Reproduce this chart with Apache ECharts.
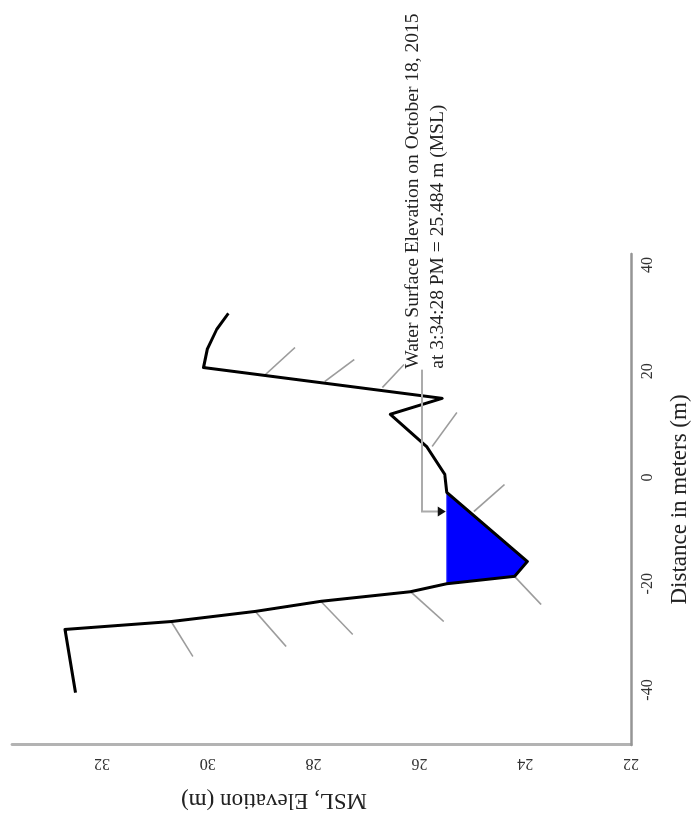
<!DOCTYPE html>
<html>
<head>
<meta charset="utf-8">
<script src="https://cdn.jsdelivr.net/npm/echarts@6/dist/echarts.min.js"></script>
<style>
  html, body { margin: 0; padding: 0; width: 696px; height: 839px; overflow: hidden; background: #fff; }
  /* the section is laid out with distance across and elevation up, then turned a quarter-turn counter-clockwise */
  #chart { position: absolute; left: 0; top: 839px; width: 839px; height: 696px;
           transform-origin: 0 0; transform: rotate(-90deg); }
</style>
</head>
<body>
<div id="chart"></div>
<script>
// Cross-section survey: distance along the section (m) and MSL bed elevation (m)
const distanceTicks = [-40, -20, 0, 20, 40];
const elevationTicks = [22, 24, 26, 28, 30, 32];

const bedDistance  = [-40.5, -28.6, -27.1, -25.2, -23.3, -21.5, -20.0, -18.6, -15.8, -2.8, 0.6, 5.8, 11.9, 14.9, 20.7, 24.1, 27.9, 30.9];
const bedElevation = [32.50, 32.70, 30.68, 29.10, 27.86, 26.17, 25.484, 24.20, 23.96, 25.484, 25.52, 25.86, 26.55, 25.57, 30.08, 30.01, 29.83, 29.61];

const waterSurface = 25.484;
const waterLabel = ['Water Surface Elevation on October 18, 2015', 'at 3:34:28 PM = 25.484 m (MSL)'];

// ground hatching: start on the bed, end below it  [distance, elevation]
const hatchStart = [[19.39, 28.91], [18.07, 27.79], [16.94, 26.70], [5.84, 25.76], [-6.40, 24.97],
                    [-18.64, 24.20], [-21.46, 26.17], [-23.34, 27.86], [-25.22, 29.10], [-27.29, 30.68]];
const hatchEnd   = [[24.47, 28.35], [22.21, 27.23], [21.27, 26.29], [12.24, 25.29], [-1.32, 24.39],
                    [-23.91, 23.70], [-27.11, 25.54], [-29.55, 27.26], [-31.81, 28.52], [-33.69, 30.28]];

// leader from the label to the water surface
const leaderDistance  = [20.3, -6.4, -6.4];
const leaderElevation = [25.95, 25.95, waterSurface];

const bed = bedDistance.map((d, i) => [d, bedElevation[i]]);
const water = bed.filter(p => p[1] <= waterSurface);
const hatches = hatchStart.map((s, i) => [s[0], s[1], hatchEnd[i][0], hatchEnd[i][1]]);
const leader = leaderDistance.map((d, i) => [d, leaderElevation[i]]);

const serif = '"Liberation Serif", "Times New Roman", serif';
const chart = echarts.init(document.getElementById('chart'));

chart.setOption({
  animation: false,
  backgroundColor: '#fff',
  grid: { left: 94, right: 254, top: 12, bottom: 60 },
  xAxis: {
    type: 'value', min: -50.35, max: 42.07,
    splitLine: { show: false },
    axisLine: { onZero: false, lineStyle: { color: '#959595', width: 2.5 } },
    axisTick: { show: false },
    axisLabel: { customValues: distanceTicks, margin: 9, fontFamily: serif, fontSize: 16, color: '#333' },
    name: 'Distance in meters (m)', nameLocation: 'middle', nameGap: 37,
    nameTextStyle: { fontFamily: serif, fontSize: 23, color: '#222' }
  },
  yAxis: {
    type: 'value', min: 22, max: 33.7,
    splitLine: { show: false },
    axisLine: { onZero: false, lineStyle: { color: '#b3b3b3', width: 3 } },
    axisTick: { show: false },
    axisLabel: { customValues: elevationTicks, rotate: 90, margin: 10, fontFamily: serif, fontSize: 16, color: '#333' }
  },
  graphic: [{
    type: 'text', x: 39, y: 274, rotation: Math.PI / 2,
    style: { text: 'MSL, Elevation (m)', font: '23px ' + serif, fill: '#222', align: 'center', verticalAlign: 'middle' }
  }],
  series: [
    {
      type: 'custom', name: 'water', z: 1,
      data: water,
      renderItem: (params, api) => {
        if (params.dataIndex !== 0) return null;
        return {
          type: 'polygon',
          shape: { points: water.map(p => api.coord(p)) },
          style: { fill: '#0000ff', stroke: '#4a4aff', lineWidth: 1 }
        };
      }
    },
    {
      type: 'custom', name: 'hatching', z: 2,
      data: hatches,
      encode: { x: [0, 2], y: [1, 3] },
      renderItem: (params, api) => {
        const a = api.coord([api.value(0), api.value(1)]);
        const b = api.coord([api.value(2), api.value(3)]);
        return {
          type: 'line',
          shape: { x1: a[0], y1: a[1], x2: b[0], y2: b[1] },
          style: { stroke: '#9c9c9c', lineWidth: 1.6 }
        };
      }
    },
    {
      type: 'line', name: 'bed', z: 3,
      data: bed, symbol: 'none', smooth: false,
      lineStyle: { color: '#000', width: 3, join: 'round' }
    },
    {
      type: 'custom', name: 'leader', z: 4,
      data: leader,
      renderItem: (params, api) => {
        if (params.dataIndex !== 0) return null;
        const pts = leader.map(p => api.coord(p));
        const tip = pts[pts.length - 1];
        return {
          type: 'group',
          children: [
            { type: 'polyline', shape: { points: pts.slice(0, -1).concat([[tip[0], tip[1] - 6]]) },
              style: { stroke: '#ababab', lineWidth: 2, fill: null } },
            { type: 'polygon', shape: { points: [[tip[0] - 5, tip[1] - 9], [tip[0] + 5, tip[1] - 9], [tip[0], tip[1] - 1]] },
              style: { fill: '#111' } },
            { type: 'text', x: pts[0][0] + 1, y: pts[0][1] - 22,
              style: { text: waterLabel.join('\n'), font: '19.5px ' + serif, lineHeight: 25,
                       fill: '#222', align: 'left', verticalAlign: 'top' } }
          ]
        };
      }
    }
  ]
});
</script>
</body>
</html>
